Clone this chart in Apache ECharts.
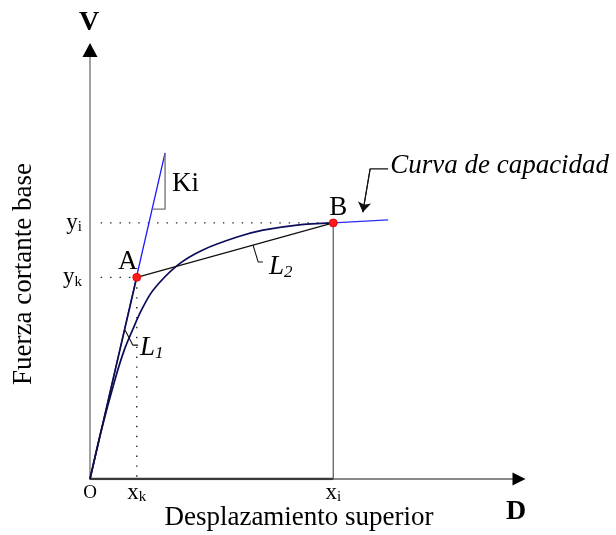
<!DOCTYPE html>
<html>
<head>
<meta charset="utf-8">
<script src="https://cdn.jsdelivr.net/npm/echarts@6/dist/echarts.min.js"></script>
<style>
  html, body { margin: 0; padding: 0; background: #ffffff; }
  #chart { width: 616px; height: 535px; }
</style>
</head>
<body>
<div id="chart"></div>
<script>
// Axis extents (arbitrary displacement / shear units)
const X_MAX = 10;
const Y_MAX = 10;

// Characteristic points of the bilinear idealisation
const X_K = 1.09, Y_K = 4.70;   // point A
const X_I = 5.67, Y_I = 5.97;   // point B
const pointNames = ['A', 'B'];

// Capacity curve: up to B, then the remaining branch past B
const capacityToB = [
  [0, 0], [0.26, 1.12], [0.58, 2.31], [0.80, 3.01], [0.99, 3.47],
  [1.19, 3.92], [1.47, 4.40], [2.05, 4.99], [2.63, 5.34], [3.43, 5.64],
  [4.03, 5.80], [4.83, 5.92], [5.67, 5.97]
];
const capacityBeyondB = [[5.67, 5.97], [6.95, 6.04]];

// Initial stiffness Ki and its slope triangle
const kiLine = [[0, 0], [1.75, 7.60]];
const kiTriangle = [[1.75, 7.60], [1.75, 6.29], [1.46, 6.29]];
const kiLabelAt = [1.75, 6.88];

// Leader lines for L1, L2 and the curve caption
const leaderL1 = [[0.82, 3.47], [1.00, 3.12], [1.12, 3.12]];
const leaderL2 = [[3.80, 5.45], [3.92, 5.06], [4.03, 5.06]];
const leaderCurve = [[6.95, 7.23], [6.53, 7.23], [6.36, 6.22]];

// Tick labels (main letter, subscript)
const xTickValues = [0, X_K, X_I];
const xTickTexts = [['O', ''], ['x', 'k'], ['x', 'i']];
const yTickValues = [Y_K, Y_I];
const yTickTexts = [['y', 'k'], ['y', 'i']];

const GUIDE_START = 0.25;   // dotted guides start a little right of the V axis
const FONT = "'Liberation Serif', 'Times New Roman', serif";
const INK = { color: '#000', opacity: 1 };

const chart = echarts.init(document.getElementById('chart'), null, { renderer: 'canvas' });

function plainLine(data, color, width, type, z) {
  return {
    type: 'line', data: data, showSymbol: false, symbol: 'none', silent: true,
    smooth: false, z: z || 3,
    lineStyle: { color: color, width: width, type: type || 'solid' }
  };
}

function subText(pair) {
  return pair[1] ? '{m|' + pair[0] + '}{s|' + pair[1] + '}' : '{o|' + pair[0] + '}';
}

const tickRich = {
  m: Object.assign({ fontFamily: FONT, fontSize: 23, lineHeight: 24, verticalAlign: 'middle' }, INK),
  s: Object.assign({ fontFamily: FONT, fontSize: 15, lineHeight: 10, verticalAlign: 'bottom' }, INK),
  o: Object.assign({ fontFamily: FONT, fontSize: 19, lineHeight: 24, verticalAlign: 'middle' }, INK)
};

const italicRich = {
  l: Object.assign({ fontFamily: FONT, fontStyle: 'italic', fontSize: 27, lineHeight: 28, verticalAlign: 'middle' }, INK),
  s: Object.assign({ fontFamily: FONT, fontStyle: 'italic', fontSize: 17, lineHeight: 10, verticalAlign: 'bottom' }, INK)
};

function textMarker(at, formatter, labelOpts) {
  return {
    type: 'scatter', data: [at], symbol: 'circle', symbolSize: 0.01, silent: true, clip: false, z: 6,
    itemStyle: { color: '#000', opacity: 1 },
    label: Object.assign({ show: true, formatter: formatter, fontFamily: FONT }, INK, labelOpts)
  };
}

const option = {
  animation: false,
  backgroundColor: '#ffffff',
  grid: { left: 90, right: 97, top: 50, bottom: 56, containLabel: false, outerBoundsMode: 'none' },
  xAxis: {
    type: 'value', min: 0, max: X_MAX,
    axisLine: { show: true, lineStyle: { color: '#8a8a8a', width: 2 } },
    axisTick: { show: false },
    splitLine: { show: false },
    axisLabel: {
      customValues: xTickValues,
      margin: 2,
      formatter: function (v) {
        const i = xTickValues.indexOf(v);
        return i < 0 ? '' : subText(xTickTexts[i]);
      },
      rich: tickRich
    }
  },
  yAxis: {
    type: 'value', min: 0, max: Y_MAX,
    axisLine: { show: true, lineStyle: { color: '#8a8a8a', width: 1.6 } },
    axisTick: { show: false },
    splitLine: { show: false },
    axisLabel: {
      customValues: yTickValues,
      margin: 8,
      formatter: function (v) {
        const i = yTickValues.indexOf(v);
        return i < 0 ? '' : subText(yTickTexts[i]);
      },
      rich: tickRich
    }
  },
  graphic: [
    {
      type: 'text', x: 24, y: 274, rotation: Math.PI / 2, silent: true,
      style: { text: 'Fuerza cortante base', x: 0, y: 0, fill: '#000',
        font: '27px ' + FONT, textAlign: 'center', align: 'center',
        textVerticalAlign: 'middle', verticalAlign: 'middle' }
    },
    {
      type: 'text', x: 299, y: 518, silent: true,
      style: { text: 'Desplazamiento superior', x: 0, y: 0, fill: '#000',
        font: '27px ' + FONT, textAlign: 'center', align: 'center',
        textVerticalAlign: 'middle', verticalAlign: 'middle' }
    },
    {
      type: 'text', x: 89, y: 23, silent: true,
      style: { text: 'V', x: 0, y: 0, fill: '#000',
        font: 'bold 28px ' + FONT, textAlign: 'center', align: 'center',
        textVerticalAlign: 'middle', verticalAlign: 'middle' }
    },
    {
      type: 'text', x: 516, y: 512, silent: true,
      style: { text: 'D', x: 0, y: 0, fill: '#000',
        font: 'bold 28px ' + FONT, textAlign: 'center', align: 'center',
        textVerticalAlign: 'middle', verticalAlign: 'middle' }
    }
  ],
  series: [
    // darker stretch of the D axis up to x_i
    plainLine([[0, 0], [X_I, 0]], '#3a3a3a', 2.4, 'solid', 2),
    // dotted projections of A and B
    plainLine([[GUIDE_START, Y_I], [X_I, Y_I]], '#222', 1.4, [1.4, 8], 2),
    plainLine([[GUIDE_START, Y_K], [X_K, Y_K]], '#222', 1.4, [1.4, 8], 2),
    plainLine([[X_K, Y_K], [X_K, 0]], '#222', 1.4, [1.4, 8.5], 2),
    plainLine([[X_I, Y_I], [X_I, 0]], '#555', 1.2, 'solid', 2),
    // initial stiffness Ki and slope triangle
    plainLine(kiLine, '#1a1aff', 1.3, 'solid', 3),
    plainLine(kiTriangle, '#777', 1.4, 'solid', 3),
    // capacity curve
    Object.assign(plainLine(capacityToB, '#0c0c5c', 1.7, 'solid', 4), { smooth: 0.3 }),
    plainLine(capacityBeyondB, '#2a2aff', 1.4, 'solid', 4),
    // bilinear idealisation L1 (O-A) and L2 (A-B)
    plainLine([[0, 0], [X_K, Y_K]], '#10103a', 1.6, 'solid', 5),
    plainLine([[X_K, Y_K], [X_I, Y_I]], '#111', 1.3, 'solid', 5),
    // leaders
    plainLine(leaderL1, '#111', 1.1, 'solid', 5),
    plainLine(leaderL2, '#111', 1.1, 'solid', 5),
    plainLine(leaderCurve, '#111', 1.1, 'solid', 5),
    {
      type: 'lines', coordinateSystem: 'cartesian2d', silent: true, z: 5,
      symbol: ['none', 'arrow'], symbolSize: [6, 10],
      lineStyle: { color: '#111', width: 1.1, opacity: 1 },
      data: [{ coords: [leaderCurve[1], leaderCurve[2]] }]
    },
    // points A and B
    {
      type: 'scatter', data: [[X_K, Y_K], [X_I, Y_I]], symbol: 'circle', symbolSize: 8,
      silent: true, clip: false, z: 7,
      itemStyle: { color: '#ff1a1a', borderColor: '#d00000', borderWidth: 0.8, opacity: 1 },
      label: Object.assign({
        show: true, position: 'top', fontFamily: FONT, fontSize: 27,
        formatter: function (p) { return pointNames[p.dataIndex]; }
      }, INK),
      labelLayout: function (p) {
        return p.dataIndex === 0 ? { dx: -9, dy: 7 } : { dx: 5, dy: 8 };
      }
    },
    // slope / segment captions
    textMarker(kiLabelAt, 'Ki', { position: 'right', distance: 7, fontSize: 27 }),
    textMarker(leaderL1[2], '{l|L}{s|1}', { position: 'right', distance: 2, offset: [0, 3], rich: italicRich }),
    textMarker(leaderL2[2], '{l|L}{s|2}', { position: 'right', distance: 6, offset: [0, 5], rich: italicRich }),
    textMarker(leaderCurve[0], 'Curva de capacidad', {
      position: 'right', distance: 2, offset: [0, -3], fontSize: 27, fontStyle: 'italic'
    }),
    // axis arrow heads
    {
      type: 'scatter', symbol: 'triangle', symbolSize: [15, 14], silent: true, clip: false, z: 8,
      itemStyle: { color: '#000', opacity: 1 }, data: [[0, Y_MAX]]
    },
    {
      type: 'scatter', symbol: 'triangle', symbolSize: [13, 13], symbolRotate: -90,
      silent: true, clip: false, z: 8,
      itemStyle: { color: '#000', opacity: 1 }, data: [[X_MAX, 0]]
    }
  ]
};

chart.setOption(option);
</script>
</body>
</html>
